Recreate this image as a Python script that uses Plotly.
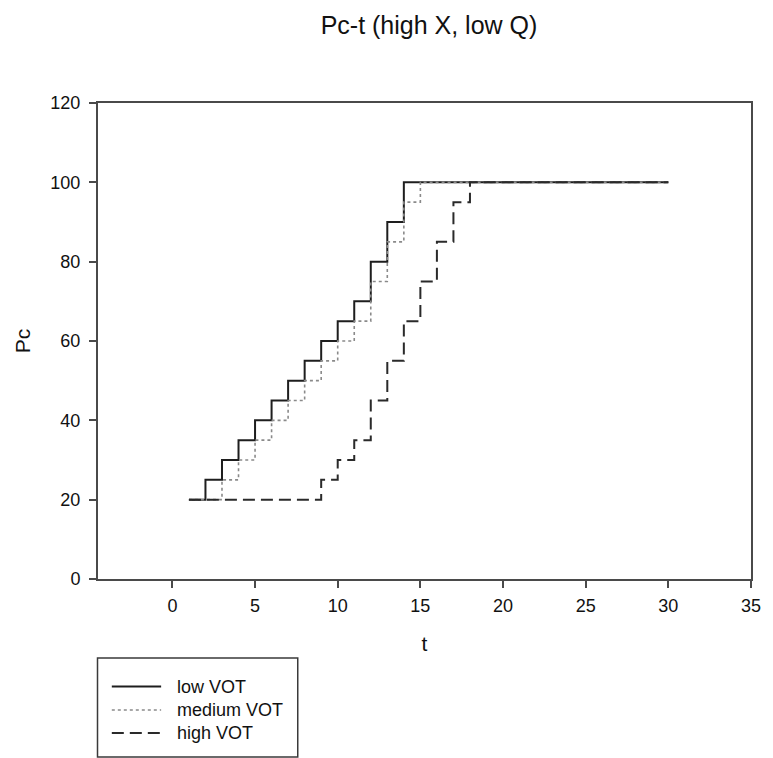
import plotly.graph_objects as go

# Step data: Pc at each time step t
t = [1, 2, 3, 4, 5, 6, 7, 8, 9, 10, 11, 12, 13, 14, 15,
     16, 17, 18, 19, 20, 21, 22, 23, 24, 25, 26, 27, 28, 29, 30]
pc_low = [20, 25, 30, 35, 40, 45, 50, 55, 60, 65, 70, 80, 90, 100, 100,
          100, 100, 100, 100, 100, 100, 100, 100, 100, 100, 100, 100, 100, 100, 100]
pc_medium = [20, 20, 25, 30, 35, 40, 45, 50, 55, 60, 65, 75, 85, 95, 100,
             100, 100, 100, 100, 100, 100, 100, 100, 100, 100, 100, 100, 100, 100, 100]
pc_high = [20, 20, 20, 20, 20, 20, 20, 20, 25, 30, 35, 45, 55, 65, 75,
           85, 95, 100, 100, 100, 100, 100, 100, 100, 100, 100, 100, 100, 100, 100]

series_names = ["low VOT", "medium VOT", "high VOT"]
series_values = [pc_low, pc_medium, pc_high]
series_styles = [
    dict(color="#1e1e1e", width=2, dash="solid"),
    dict(color="#8a8a8a", width=1.6, dash="dot"),
    dict(color="#2a2a2a", width=2, dash="12px,6px"),
]

x_ticks = [0, 5, 10, 15, 20, 25, 30, 35]
y_ticks = [0, 20, 40, 60, 80, 100, 120]

W, H = 773, 758
ML, MR, MT, MB = 98, 13, 103, 179
PW, PH = W - ML - MR, H - MT - MB
FONT = "Arial, 'Liberation Sans', sans-serif"


def px(xp):
    return (xp - ML) / PW


def py(yp):
    return (H - MB - yp) / PH


fig = go.Figure()
for name, vals, style in zip(series_names, series_values, series_styles):
    fig.add_trace(go.Scatter(x=t, y=vals, name=name, mode="lines",
                             line=dict(shape="hv", **style),
                             showlegend=False))

# Boxed legend below the plot area
shapes = [dict(type="rect", xref="paper", yref="paper",
               x0=px(97.5), x1=px(300.5), y0=py(757), y1=py(658),
               line=dict(color="#3a3a3a", width=1.5), fillcolor="rgba(0,0,0,0)")]
annotations = []
row_y = [686.5, 710, 733]
for name, style, ry in zip(series_names, series_styles, row_y):
    shapes.append(dict(type="line", xref="paper", yref="paper",
                       x0=px(112), x1=px(162), y0=py(ry), y1=py(ry),
                       line=style))
    annotations.append(dict(xref="paper", yref="paper", x=px(176), y=py(ry),
                            text=name, showarrow=False, xanchor="left",
                            yanchor="middle",
                            font=dict(family=FONT, size=18, color="#111")))

axis_common = dict(showline=True, linecolor="#4a4a4a", linewidth=2, mirror=True,
                   ticks="outside", ticklen=7, tickwidth=1.5, tickcolor="#4a4a4a",
                   showgrid=False, zeroline=False,
                   tickfont=dict(family=FONT, size=18, color="#111"))

fig.update_layout(
    width=W, height=H,
    margin=dict(l=ML, r=MR, t=MT, b=MB),
    paper_bgcolor="white", plot_bgcolor="white",
    title=dict(text="Pc-t (high X, low Q)", x=(ML + PW / 2) / W, xanchor="center",
               y=1 - 25 / H, yanchor="middle",
               font=dict(family=FONT, size=25, color="#111")),
    xaxis=dict(range=[-4.5, 35], tickvals=x_ticks, ticklabelstandoff=2,
               title=dict(text="t", standoff=22,
                          font=dict(family=FONT, size=21, color="#111")),
               **axis_common),
    yaxis=dict(range=[0, 120], tickvals=y_ticks, ticklabelstandoff=5,
               title=dict(text="Pc", standoff=14,
                          font=dict(family=FONT, size=21, color="#111")),
               **axis_common),
    shapes=shapes,
    annotations=annotations,
)

fig.write_html("out.html")
